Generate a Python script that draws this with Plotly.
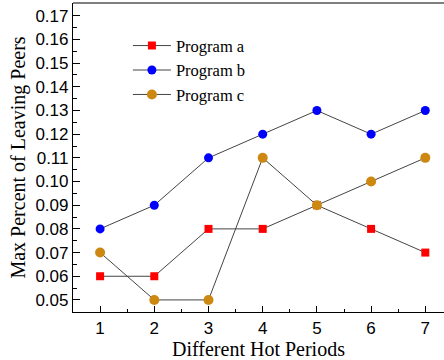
import plotly.graph_objects as go

periods = [1, 2, 3, 4, 5, 6, 7]
program_a = [0.06, 0.06, 0.08, 0.08, 0.09, 0.08, 0.07]
program_b = [0.08, 0.09, 0.11, 0.12, 0.13, 0.12, 0.13]
program_c = [0.07, 0.05, 0.05, 0.11, 0.09, 0.10, 0.11]
y_ticks = [round(0.05 + 0.01 * i, 2) for i in range(13)]

series = [
    ("Program a", program_a, "square", "#FF0000", 8),
    ("Program b", program_b, "circle", "#0000FF", 9),
    ("Program c", program_c, "circle", "#CC8811", 10),
]

fig = go.Figure()
for name, vals, sym, col, size in series:
    fig.add_trace(go.Scatter(
        x=periods, y=vals, name=name, mode="lines+markers",
        line=dict(color="#444444", width=1),
        marker=dict(symbol=sym, color=col, size=size, line=dict(width=0)),
    ))

serif = "Liberation Serif"
sans = "Liberation Sans"

fig.update_layout(
    width=444, height=360,
    margin=dict(l=73, r=0, t=3, b=48),
    paper_bgcolor="white", plot_bgcolor="white",
    showlegend=True,
    legend=dict(x=0.148, y=0.918, xanchor="left", yanchor="top",
                font=dict(family=serif, size=16.5, color="black"),
                bgcolor="rgba(0,0,0,0)", itemwidth=38, tracegroupgap=0),
)
fig.update_xaxes(
    range=[0.5, 7.345], tickvals=periods, ticktext=[str(p) for p in periods],
    showgrid=False, zeroline=False, showline=True, linecolor="black", linewidth=1.2,
    mirror=False, ticks="inside", ticklen=6, tickcolor="black",
    minor=dict(ticks="inside", ticklen=3, tickcolor="black", dtick=0.5, tick0=0.5),
    tickfont=dict(family=sans, size=17, color="black"),
    title=dict(text="Different Hot Periods", font=dict(family=serif, size=20, color="black"), standoff=2),
)
fig.update_yaxes(
    range=[0.0449, 0.1754], tickvals=y_ticks, ticktext=[f"{v:.2f}" for v in y_ticks],
    showgrid=False, zeroline=False, showline=True, linecolor="black", linewidth=1.2,
    ticks="inside", ticklen=7, tickcolor="black",
    minor=dict(ticks="inside", ticklen=4, tickcolor="black", dtick=0.005, tick0=0.045),
    tickfont=dict(family=sans, size=17, color="black"),
    title=dict(text="Max Percent of Leaving Peers", font=dict(family=serif, size=20, color="black"), standoff=4),
)
# top frame line
fig.add_shape(type="line", xref="paper", yref="paper", x0=0, x1=1, y0=1, y1=1,
              line=dict(color="black", width=1.2))

fig.write_html("out.html")
